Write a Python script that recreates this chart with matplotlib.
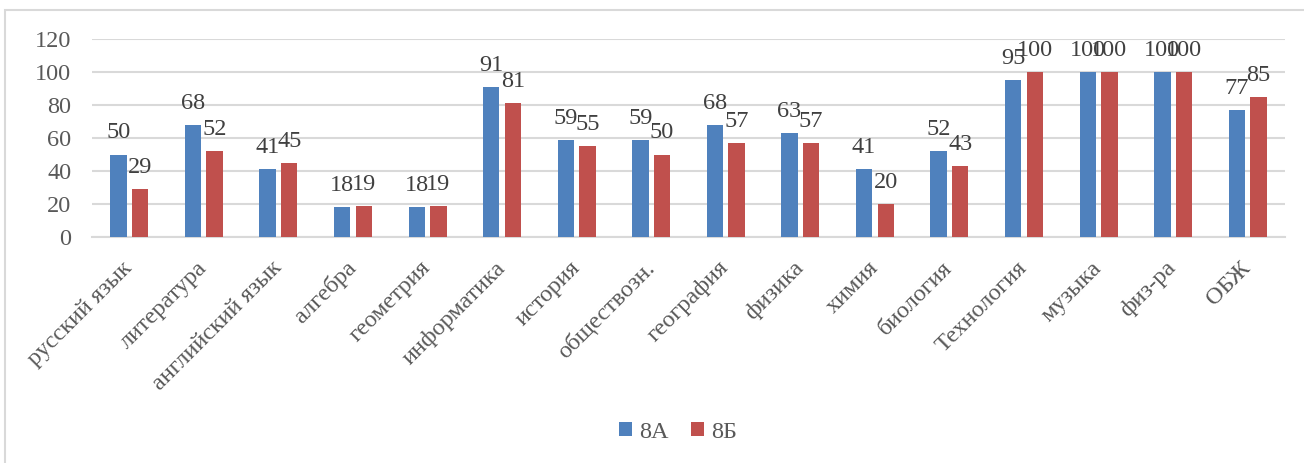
from matplotlib import pyplot as plt
from matplotlib.patches import Rectangle
import numpy as np

plt.rcParams['font.family'] = ['Liberation Serif', 'DejaVu Serif']

subjects = ["русский язык", "литература", "английский язык", "алгебра", "геометрия",
            "информатика", "история", "обществозн.", "география", "физика", "химия",
            "биология", "Технология", "музыка", "физ-ра", "ОБЖ"]
class_8a = [50, 68, 41, 18, 18, 91, 59, 59, 68, 63, 41, 52, 95, 100, 100, 77]
class_8b = [29, 52, 45, 19, 19, 81, 55, 50, 57, 57, 20, 43, 100, 100, 100, 85]

blue = "#4F81BD"
red = "#C0504D"
grid_c = "#D9D9D9"
txt_c = "#595959"
lab_c = "#404040"
fs = 17.5

fig = plt.figure(figsize=(13.04, 4.63), dpi=100)
ax = fig.add_axes([92/1304, 1 - 237/463, (1285 - 92)/1304, (237 - 39)/463])

# frame around the chart (cut off on the right and bottom in the original)
fig.patches.append(Rectangle((5/1304, -0.1), 1.2, 1.1 - 10/463, transform=fig.transFigure,
                             fill=False, edgecolor=grid_c, linewidth=1.5))

x = np.arange(len(subjects))
w = 0.22
off = 0.145
b1 = ax.bar(x - off, class_8a, w, color=blue, label="8А", zorder=3)
b2 = ax.bar(x + off, class_8b, w, color=red, label="8Б", zorder=3)

for bars in (b1, b2):
    for r in bars:
        h = r.get_height()
        ax.annotate(str(int(h)), (r.get_x() + r.get_width()/2, h), xytext=(0, 8),
                    textcoords="offset points", ha="center", va="bottom",
                    fontsize=fs, color=lab_c)

ax.set_xlim(-0.5, len(subjects) - 0.5)
ax.set_ylim(0, 120)
ax.set_yticks(range(0, 121, 20))
ax.yaxis.grid(True, color=grid_c, linewidth=1.5, zorder=0)
ax.set_axisbelow(True)
for s in ["top", "right", "left"]:
    ax.spines[s].set_visible(False)
ax.spines["bottom"].set_color(grid_c)
ax.spines["bottom"].set_linewidth(1.5)

ax.tick_params(axis="y", length=0, pad=15, labelsize=fs, labelcolor=txt_c)
ax.tick_params(axis="x", length=0, pad=20, labelsize=fs, labelcolor=txt_c)
ax.set_xticks(x)
labels = ax.set_xticklabels(subjects, rotation=45, ha="right", rotation_mode="anchor")
plt.setp(labels, va="center")

fig.legend(handles=[b1, b2], loc="center", bbox_to_anchor=(678/1304, 1 - 432/463),
           ncol=2, frameon=False, fontsize=fs, labelcolor=txt_c,
           handlelength=0.55, handleheight=0.55, handletextpad=0.3, columnspacing=0.9)

plt.savefig("out.png", dpi=100)
